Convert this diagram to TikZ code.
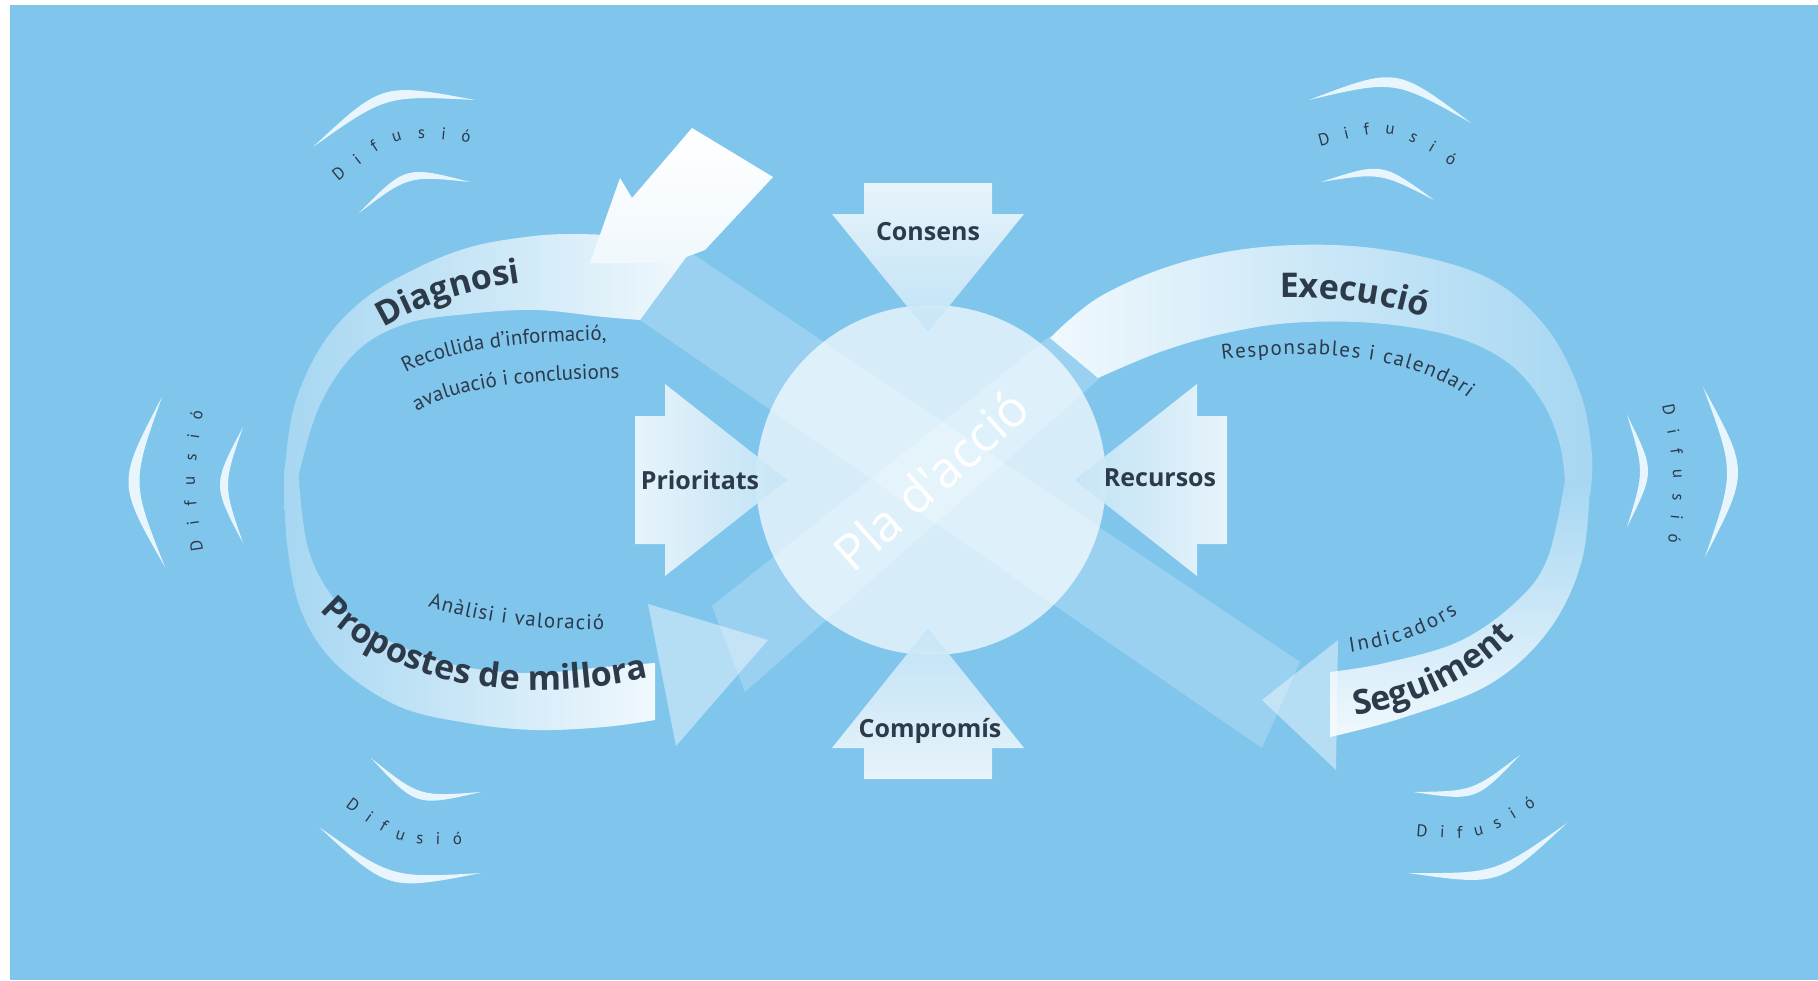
\documentclass[tikz,border=0pt]{standalone}
\usepackage{fontspec}
\setmainfont{PT Sans}
\newfontfamily\headfam{Open Sans}
\usetikzlibrary{calc,decorations.text}
\definecolor{sky}{RGB}{128,197,236}
\definecolor{ink}{RGB}{45,58,74}
\colorlet{glow}{white!88!sky}
\colorlet{mist}{white!30!sky}
\newcommand{\stagefont}{\color{ink}\headfam\bfseries\fontsize{34}{34}\selectfont}
\newcommand{\notefont}{\color{ink}\fontsize{21}{21}\selectfont}
\newcommand{\wavefont}{\color{ink}\fontsize{17}{17}\selectfont}
\newcommand{\ripple}[4]{%
	\pgfmathsetmacro\ripout{4/3*#3}%
	\pgfmathsetmacro\ripin{4/3*(#3-#4)}%
	\fill[wave] (#1) .. controls ($(#1)!.5!(#2)!\ripout pt!90:(#2)$) .. (#2)
		.. controls ($(#1)!.5!(#2)!\ripin pt!90:(#2)$) .. (#1) -- cycle;}
\newcommand{\ripword}[3]{%
	\pgfmathsetmacro\ripout{4/3*#3}%
	\path[decorate, decoration={text along path, text align=fit to path, text={|\wavefont|Difusió}}]
		(#1) .. controls ($(#1)!.5!(#2)!\ripout pt!90:(#2)$) .. (#2);}

\begin{document}
\begin{tikzpicture}[x=1pt, y=-1pt,
	cross/.style={fill=white, fill opacity=.22},
	head/.style={fill=white, fill opacity=.42},
	wave/.style={fill=white!82!sky},
	push/.style={fill opacity=.92},
	tag/.style={text=ink, font=\headfam\bfseries\fontsize{25}{25}\selectfont},
	pla/.style={circle, minimum size=350pt, inner sep=0pt, fill=white, fill opacity=.68, text opacity=1, text=white, rotate=42, font=\headfam\fontsize{50}{50}\selectfont}]
	\useasboundingbox (0,0) rectangle (1818,980);
	\fill[white] (0,0) rectangle (1818,980);
	\fill[sky] (10,5) rectangle (1818,980);

	\fill[cross] (690,252) -- (1300,662) -- (1262,748) -- (640,320) -- cycle;
	\fill[cross] (712,606) -- (1050,336) -- (1100,378) -- (745,692) -- cycle;

	\shade[left color=mist, right color=glow] plot[smooth, tension=.6] coordinates {(690,252) (640,238) (570,234) (518,238) (467,248) (415,269) (363,300) (322,345) (294,407) (284,478)}
		-- plot[smooth, tension=.6] coordinates {(298,478) (319,407) (356,352) (405,324) (467,314) (535,310) (604,317) (640,320)} -- cycle;
	\shade[left color=mist, right color=glow] plot[smooth, tension=.6] coordinates {(284,470) (287,544) (302,613) (337,665) (398,706) (467,723) (535,730) (604,727) (655,720)}
		-- plot[smooth, tension=.6] coordinates {(655,663) (604,667) (535,673) (470,668) (420,654) (375,633) (335,600) (308,548) (298,470)} -- cycle;
	\fill[head] (648,604) -- (768,640) -- (676,746) -- cycle;
	\shade[left color=glow, right color=mist] plot[smooth, tension=.6] coordinates {(1050,338) (1101,296) (1183,262) (1275,246) (1380,249) (1484,276) (1545,326) (1580,392) (1592,455) (1590,495)}
		-- plot[smooth, tension=.6] coordinates {(1566,495) (1560,445) (1541,400) (1507,362) (1452,336) (1373,323) (1290,323) (1222,334) (1160,352) (1098,378)} -- cycle;
	\shade[top color=mist, bottom color=glow] plot[smooth, tension=.6] coordinates {(1590,480) (1582,560) (1549,630) (1490,684) (1402,718) (1330,737)}
		-- plot[smooth, tension=.6] coordinates {(1330,672) (1385,663) (1460,641) (1518,600) (1548,557) (1565,480)} -- cycle;
	\fill[head] (1338,640) -- (1262,700) -- (1336,770) -- cycle;
	\shade[top color=white, bottom color=glow] (590,263) -- (620,178) -- (632,198) -- (692,128) -- (773,177) -- (705,250) -- (670,263) -- cycle;

	\node[pla] (pla) at (931,480) {Pla d'acció};

	\shade[push, top color=glow, bottom color=white!55!sky] (864,183) -- (992,183) -- (992,214) -- (1024,214) -- (928,332) -- (832,214) -- (864,214) -- cycle;
	\shade[push, bottom color=glow, top color=white!55!sky] (864,779) -- (992,779) -- (992,748) -- (1024,748) -- (928,628) -- (832,748) -- (864,748) -- cycle;
	\shade[push, left color=glow, right color=white!55!sky] (635,416) -- (665,416) -- (665,384) -- (787,480) -- (665,576) -- (665,544) -- (635,544) -- cycle;
	\shade[push, right color=glow, left color=white!55!sky] (1227,416) -- (1197,416) -- (1197,384) -- (1075,480) -- (1197,576) -- (1197,544) -- (1227,544) -- cycle;

	\node[tag] (consens) at (928,232) {Consens};
	\node[tag] (compromis) at (930,731) {Compromís};
	\node[tag] (prioritats) at (700,480) {Prioritats};
	\node[tag] (recursos) at (1160,478) {Recursos};

	\path[decorate, decoration={text along path, text align=center, text={|\stagefont|Diagnosi}}] (340,360) .. controls (400,305) and (480,283) .. (575,277);
	\path[decorate, decoration={text along path, text align=center, text={|\notefont|Recollida d'informació,}}] (378,392) .. controls (423,352) and (500,340) .. (640,340);
	\path[decorate, decoration={text along path, text align=center, text={|\notefont|avaluació i conclusions}}] (390,430) .. controls (433,390) and (510,378) .. (652,378);
	\path[decorate, decoration={text along path, text align=center, text={|\stagefont|Propostes de millora}}] (300,585) .. controls (370,690) and (530,712) .. (680,670);
	\path[decorate, decoration={text along path, text align=fit to path, text={|\notefont|Anàlisi i valoració}}] (428,606) .. controls (475,622) and (540,630) .. (604,630);
	\path[decorate, decoration={text along path, text align=center, text={|\stagefont|Execució}}] (1220,303) .. controls (1300,290) and (1410,299) .. (1480,342);
	\path[decorate, decoration={text along path, text align=fit to path, text={|\notefont|Responsables i calendari}}] (1222,360) .. controls (1330,346) and (1420,360) .. (1468,398);
	\path[decorate, decoration={text along path, text align=fit to path, text={|\notefont|Indicadors}}] (1350,652) .. controls (1390,646) and (1425,636) .. (1458,614);
	\path[decorate, decoration={text along path, text align=center, text={|\stagefont|Seguiment}}] (1320,720) .. controls (1400,714) and (1482,684) .. (1538,610);

	\ripple{313,147}{475,100}{32}{10}
	\ripple{359,213}{470,182}{25}{8}
	\ripword{338,182}{470,143}{22}
	\ripple{1309,100}{1471,123}{34}{10}
	\ripple{1321,182}{1434,200}{22}{8}
	\ripword{1320,146}{1452,166}{22}
	\ripple{165,567}{162,397}{35}{11}
	\ripple{243,543}{243,427}{23}{8}
	\ripword{203,550}{203,412}{8}
	\ripple{1703,387}{1705,557}{34}{11}
	\ripple{1627,415}{1627,527}{21}{8}
	\ripword{1662,405}{1668,543}{8}
	\ripple{481,792}{371,758}{25}{8}
	\ripple{481,873}{319,827}{32}{10}
	\ripword{345,806}{462,845}{-15}
	\ripple{1520,755}{1413,792}{22}{8}
	\ripple{1567,823}{1408,873}{30}{10}
	\ripword{1416,836}{1536,806}{-15}
\end{tikzpicture}
\end{document}
